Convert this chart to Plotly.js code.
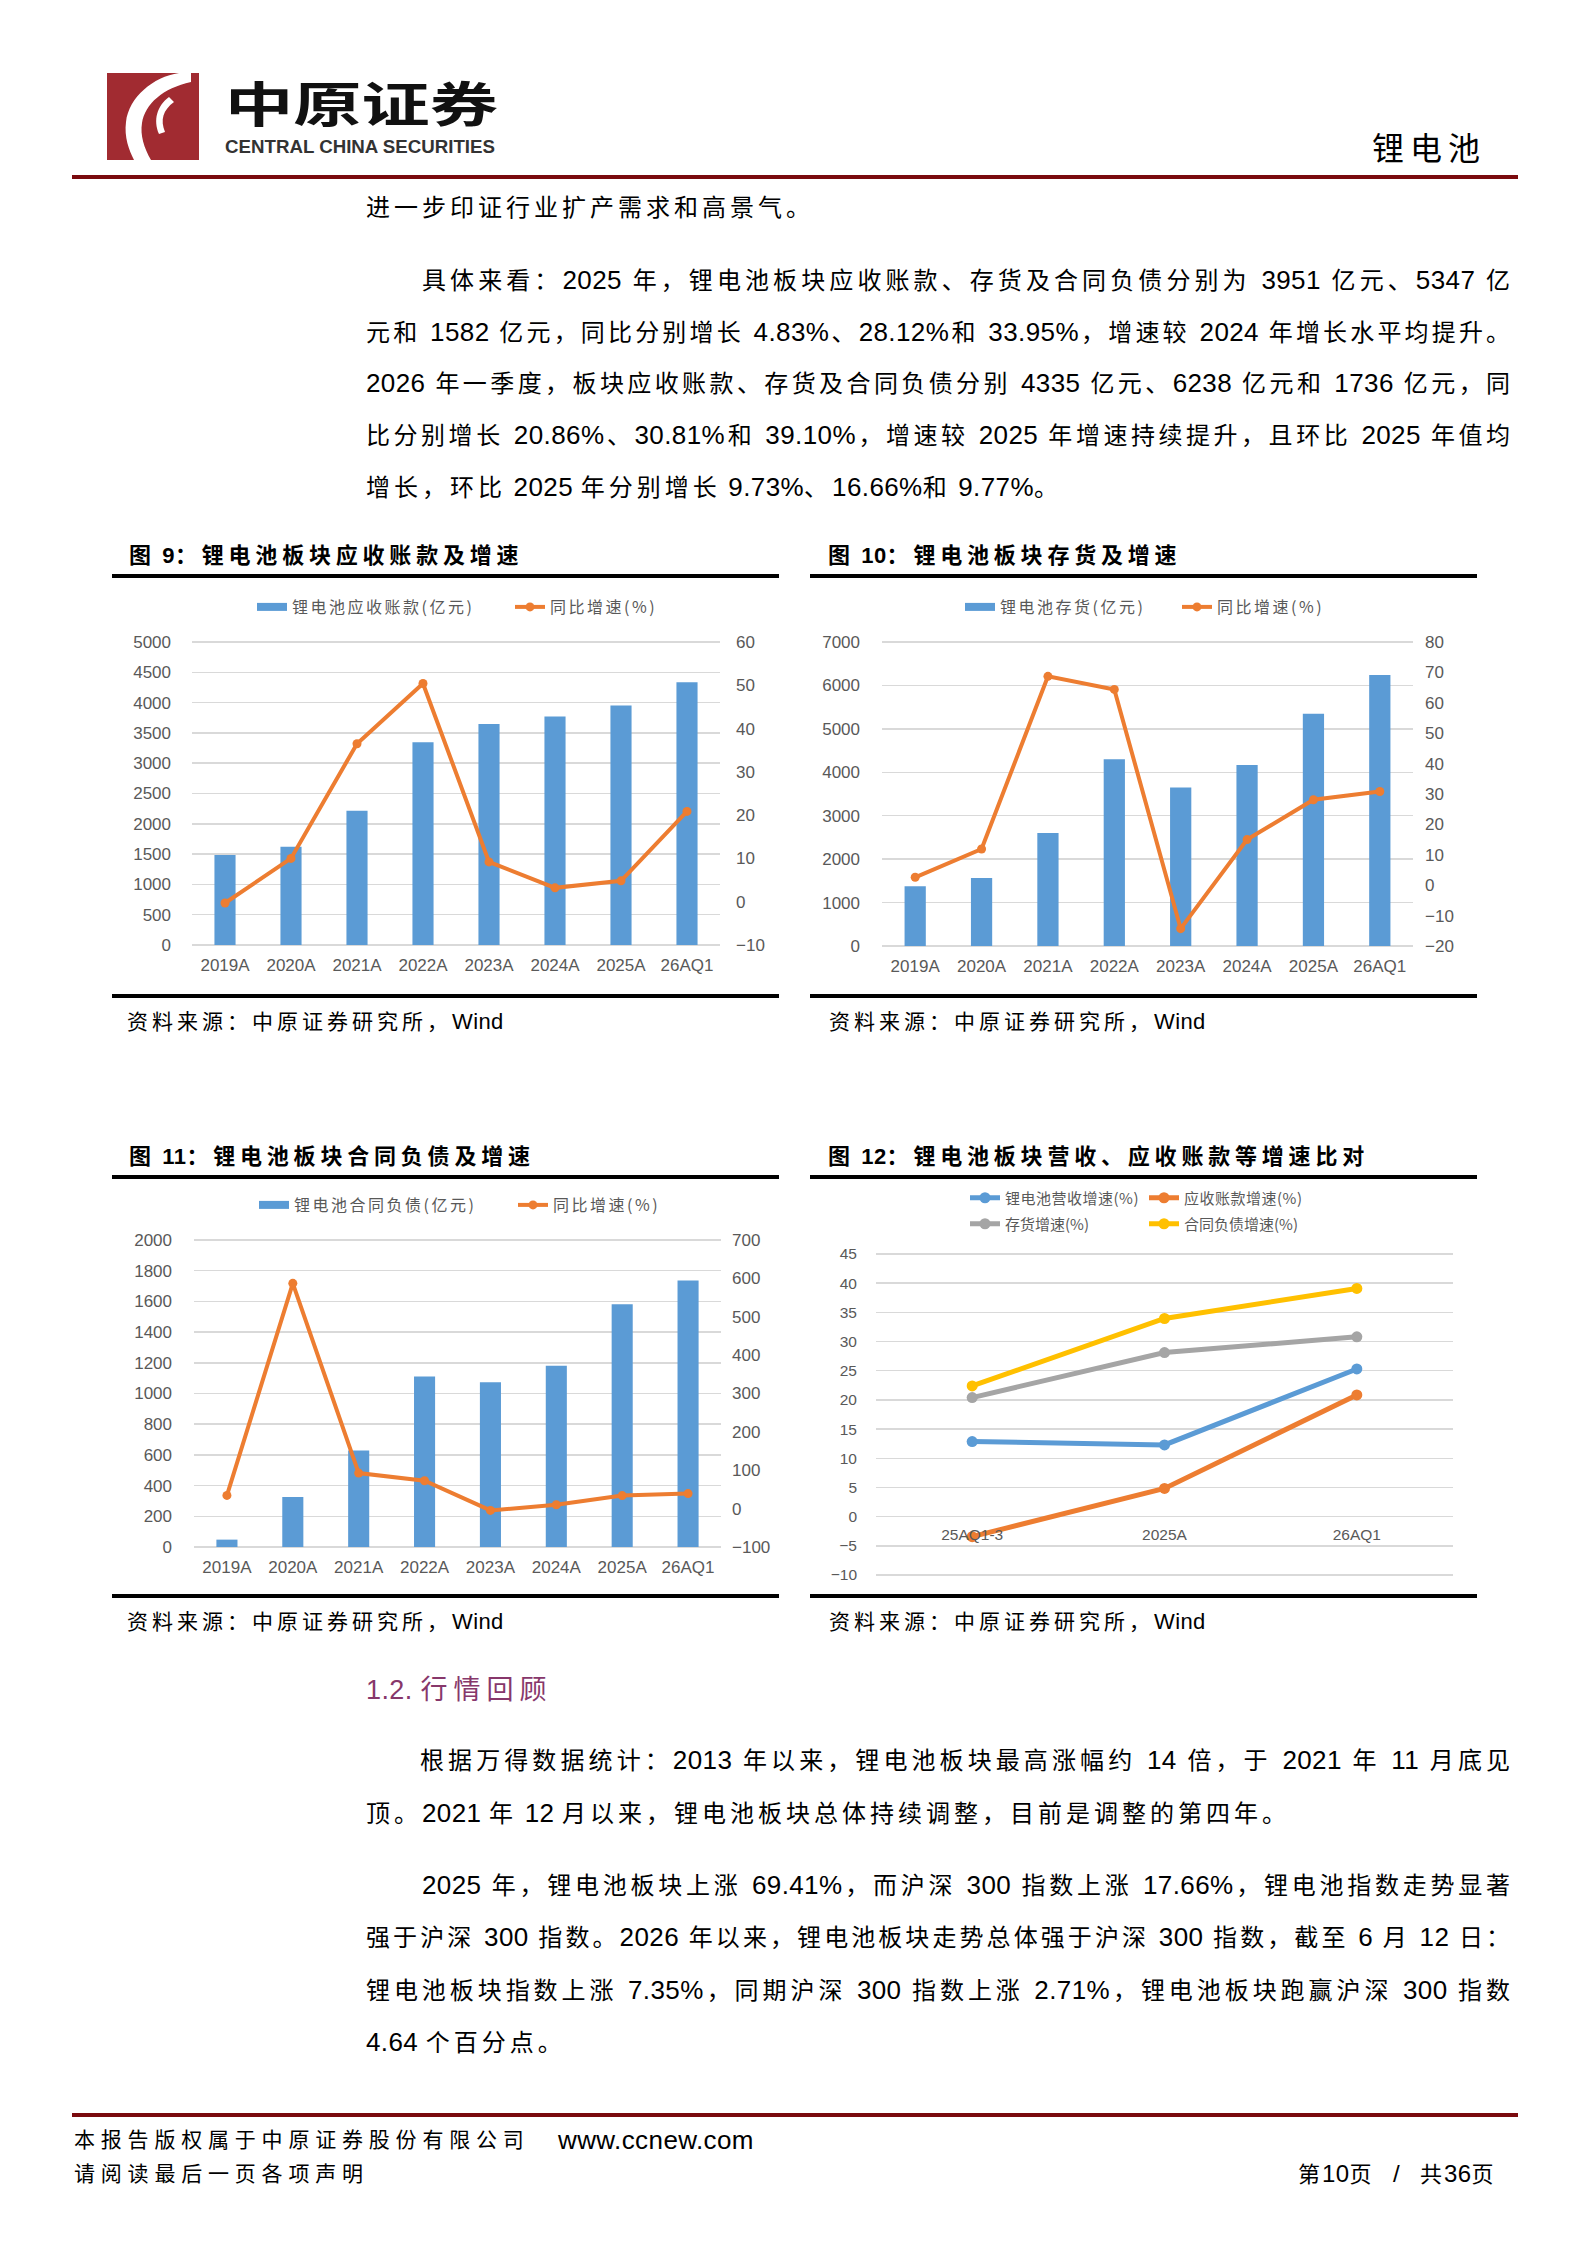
<!DOCTYPE html>
<html>
<head>
<meta charset="utf-8">
<script src="https://cdn.plot.ly/plotly-3.0.1.min.js"></script>
<style>
html,body{margin:0;padding:0;background:#fff;}
#page{position:relative;width:1588px;height:2245px;overflow:hidden;background:#fff;}
.t{position:absolute;white-space:nowrap;font-family:"Noto Sans CJK SC",sans-serif;color:#000;}
.lat{font-family:"Liberation Sans",Arial,sans-serif;letter-spacing:0.4px;}
.rule{position:absolute;}
.chart{position:absolute;}
.legendtext{letter-spacing:2.5px;}
#c12 .legendtext{letter-spacing:0.5px;}
</style>
</head>
<body>
<div id="page">
  <svg style="position:absolute;left:107px;top:73px" width="92" height="87" viewBox="0 0 92 87">
    <rect width="92" height="87" fill="#A12B31"/>
    <path d="M72,0 C46,4 22,24 19,49 C17,64 22,77 27,87 L44,87 C37,75 33,62 35,50 C38,31 56,15 84,9 L84,0 Z" fill="#fff"/>
    <path d="M62,24 C50,33 46,47 52,61 L58,59 C53,47 56,37 67,29 Z" fill="#fff"/>
  </svg>
  <svg style="position:absolute;left:220px;top:50px" width="290" height="115">
    <text x="5" y="72" textLength="273" lengthAdjust="spacingAndGlyphs" font-family="Noto Sans CJK SC" font-weight="bold" font-size="48" fill="#111">中原证券</text>
    <text x="5" y="102.5" textLength="270" lengthAdjust="spacingAndGlyphs" font-family="Liberation Sans" font-weight="bold" font-size="17.5" fill="#333">CENTRAL CHINA SECURITIES</text>
  </svg>
  <div id="c9" class="chart" style="left:112px;top:580px;width:668px;height:412px;"></div>
  <div id="c10" class="chart" style="left:810px;top:580px;width:667px;height:412px;"></div>
  <div id="c11" class="chart" style="left:112px;top:1180px;width:668px;height:412px;"></div>
  <div id="c12" class="chart" style="left:810px;top:1180px;width:667px;height:412px;"></div>
</div>
<script>
// ---------------- DATA ----------------
const years = ['2019A','2020A','2021A','2022A','2023A','2024A','2025A','26AQ1'];
const receivables = [1484, 1621, 2214, 3346, 3648, 3769, 3951, 4335];
const receivablesYoY = [-0.3, 10.0, 36.5, 50.4, 9.2, 3.2, 4.83, 20.86];
const inventory = [1377, 1568, 2601, 4300, 3650, 4170, 5347, 6238];
const inventoryYoY = [2.6, 11.9, 68.7, 64.4, -14.3, 15.0, 28.12, 30.81];
const contractLiab = [48, 325, 629, 1111, 1074, 1181, 1582, 1736];
const contractLiabYoY = [34.5, 587, 92.6, 72.7, -4.6, 10.0, 33.95, 39.10];
const cmpPeriods = ['25AQ1-3','2025A','26AQ1'];
const revenueGrowth = [12.86, 12.29, 25.3];
const receivablesGrowth = [-3.43, 4.83, 20.86];
const inventoryGrowth = [20.4, 28.12, 30.81];
const contractGrowth = [22.4, 33.95, 39.10];

// ---------------- PAGE TEXT ----------------
const page = document.getElementById('page');
function rule(l, t, w, h, c) {
  const d = document.createElement('div');
  d.className = 'rule';
  d.style.cssText = `left:${l}px;top:${t}px;width:${w}px;height:${h}px;background:${c};`;
  page.appendChild(d);
}
function line(txt, o) {
  const d = document.createElement('div');
  d.className = 't';
  const lh = 40;
  d.style.left = o.left + 'px';
  d.style.top = (o.cy - lh / 2 - 1) + 'px';
  d.style.height = lh + 'px';
  d.style.lineHeight = lh + 'px';
  d.style.fontSize = o.size + 'px';
  d.style.letterSpacing = o.ls + 'px';
  if (o.color) d.style.color = o.color;
  if (o.bold) d.style.fontWeight = 'bold';
  if (o.width) {
    d.style.width = o.width + 'px';
    d.style.whiteSpace = 'normal';
    d.style.textAlign = 'justify';
    d.style.textAlignLast = 'justify';
  }
  const ls = o.latSize || o.size;
  d.innerHTML = txt.replace(/[\x20-\x7E]+/g, m => `<span class="lat" style="font-size:${ls}px">${m}</span>`);
  page.appendChild(d);
}

rule(72, 175, 1446, 4, '#7A0A0E');
rule(72, 2113, 1446, 4, '#7A0A0E');
line('锂电池', {left: 1372, cy: 147, size: 32, ls: 6});

const R = 1510;
const body = {size: 24, ls: 4, latSize: 26};
const bodyJ = (left) => ({size: 24, ls: 1, latSize: 26, left: left, width: R - left + 1});
line('进一步印证行业扩产需求和高景气。', Object.assign({left: 366, cy: 207}, body));
line('具体来看：2025 年，锂电池板块应收账款、存货及合同负债分别为 3951 亿元、5347 亿', Object.assign({cy: 280}, bodyJ(422)));
line('元和 1582 亿元，同比分别增长 4.83%、28.12%和 33.95%，增速较 2024 年增长水平均提升。', Object.assign({cy: 332}, bodyJ(366)));
line('2026 年一季度，板块应收账款、存货及合同负债分别 4335 亿元、6238 亿元和 1736 亿元，同', Object.assign({cy: 383}, bodyJ(366)));
line('比分别增长 20.86%、30.81%和 39.10%，增速较 2025 年增速持续提升，且环比 2025 年值均', Object.assign({cy: 435}, bodyJ(366)));
line('增长，环比 2025 年分别增长 9.73%、16.66%和 9.77%。', Object.assign({left: 366, cy: 487}, body));

const titleStyle = {size: 22, ls: 4.8, bold: true, latSize: 22};
line('图 9：锂电池板块应收账款及增速', Object.assign({left: 129, cy: 554}, titleStyle));
line('图 10：锂电池板块存货及增速', Object.assign({left: 828, cy: 554}, titleStyle));
line('图 11：锂电池板块合同负债及增速', Object.assign({left: 129, cy: 1155}, titleStyle));
line('图 12：锂电池板块营收、应收账款等增速比对', Object.assign({left: 828, cy: 1155}, titleStyle));
rule(112, 574, 667, 4, '#000'); rule(810, 574, 667, 4, '#000');
rule(112, 994, 667, 4, '#000'); rule(810, 994, 667, 4, '#000');
rule(112, 1175, 667, 4, '#000'); rule(810, 1175, 667, 4, '#000');
rule(112, 1594, 667, 4, '#000'); rule(810, 1594, 667, 4, '#000');

const srcStyle = {size: 21, ls: 4, latSize: 22};
line('资料来源：中原证券研究所，Wind', Object.assign({left: 127, cy: 1021}, srcStyle));
line('资料来源：中原证券研究所，Wind', Object.assign({left: 829, cy: 1021}, srcStyle));
line('资料来源：中原证券研究所，Wind', Object.assign({left: 127, cy: 1621}, srcStyle));
line('资料来源：中原证券研究所，Wind', Object.assign({left: 829, cy: 1621}, srcStyle));

line('1.2. 行情回顾', {left: 366, cy: 1689, size: 27, ls: 6, latSize: 27, color: '#87376B'});
line('根据万得数据统计：2013 年以来，锂电池板块最高涨幅约 14 倍，于 2021 年 11 月底见', Object.assign({cy: 1760}, bodyJ(420)));
line('顶。2021 年 12 月以来，锂电池板块总体持续调整，目前是调整的第四年。', Object.assign({left: 366, cy: 1813}, body));
line('2025 年，锂电池板块上涨 69.41%，而沪深 300 指数上涨 17.66%，锂电池指数走势显著', Object.assign({cy: 1885}, bodyJ(422)));
line('强于沪深 300 指数。2026 年以来，锂电池板块走势总体强于沪深 300 指数，截至 6 月 12 日：', Object.assign({cy: 1937}, bodyJ(366)));
line('锂电池板块指数上涨 7.35%，同期沪深 300 指数上涨 2.71%，锂电池板块跑赢沪深 300 指数', Object.assign({cy: 1990}, bodyJ(366)));
line('4.64 个百分点。', Object.assign({left: 366, cy: 2042}, body));

line('本报告版权属于中原证券股份有限公司', {left: 74, cy: 2139, size: 21, ls: 5.8});
line('www.ccnew.com', {left: 558, cy: 2139, size: 26, ls: 0, latSize: 26});
line('请阅读最后一页各项声明', {left: 74, cy: 2173, size: 21, ls: 5.8});
line('第10页', {left: 1298, cy: 2173, size: 22, ls: 2, latSize: 24});
line('/', {left: 1393, cy: 2173, size: 22, ls: 0, latSize: 24});
line('共36页', {left: 1420, cy: 2173, size: 22, ls: 2, latSize: 24});

// ---------------- CHARTS ----------------
const BLUE = '#5B9BD5', ORANGE = '#ED7D31', GRAY = '#A5A5A5', GOLD = '#FFC000';
const GRID = '#D9D9D9', TICK = '#595959';
const E = 2;
function ext(r, span) { const u = (r[1] - r[0]) / span; return [r[0] - E * u, r[1] + E * u]; }
const cfg = {staticPlot: true, displayModeBar: false};

function dual(id, g, bars, lineVals, barName, yr, ydt, y2r, y2dt, leg) {
  const span = g.botPx - g.topPx;
  const traces = [
    {type: 'bar', x: years, y: bars, marker: {color: BLUE}, showlegend: false, yaxis: 'y', hoverinfo: 'skip'},
    {type: 'scatter', mode: 'lines', x: [years[0]], y: [null], line: {color: BLUE, width: 8}, name: barName, yaxis: 'y'},
    {type: 'scatter', mode: 'lines+markers', x: years, y: lineVals, yaxis: 'y2', name: '同比增速(%)',
     line: {color: ORANGE, width: 4}, marker: {color: ORANGE, size: 9}}
  ];
  const layout = {
    width: g.w, height: g.h,
    margin: {l: g.l, r: g.r, t: g.topPx - E, b: g.h - g.botPx - E, pad: 0},
    paper_bgcolor: 'rgba(0,0,0,0)', plot_bgcolor: 'rgba(0,0,0,0)',
    font: {family: '"Liberation Sans", Arial, sans-serif', size: 17, color: TICK},
    bargap: 0.68,
    showlegend: true,
    xaxis: {type: 'category', range: [-0.5, years.length - 0.5], showline: false, showgrid: false, zeroline: false, ticks: '',
            tickfont: {size: 17, color: TICK}, ticklabelstandoff: g.xso},
    yaxis: {range: ext(yr, span), tick0: 0, dtick: ydt, showgrid: true, gridcolor: GRID, gridwidth: 1.5,
            zeroline: false, showline: false, ticks: '', tickfont: {size: 17, color: TICK}, ticklabelstandoff: g.lso},
    yaxis2: {range: ext(y2r, span), tick0: 0, dtick: y2dt, overlaying: 'y', side: 'right', showgrid: false,
             zeroline: false, showline: false, ticks: '', tickfont: {size: 17, color: TICK}, ticklabelstandoff: g.rso},
    legend: {orientation: 'h', xref: 'container', yref: 'container', x: leg.x / g.w, y: 1 - leg.y / g.h,
             xanchor: 'left', yanchor: 'middle', entrywidth: leg.ew, entrywidthmode: 'pixels',
             font: {family: '"Noto Sans CJK SC", sans-serif', size: 16, color: TICK},
             bgcolor: 'rgba(0,0,0,0)', traceorder: 'normal'}
  };
  Plotly.newPlot(id, traces, layout, cfg);
}

dual('c9', {w: 668, h: 412, l: 80, r: 60, topPx: 62, botPx: 365, xso: 6, lso: 20, rso: 15},
     receivables, receivablesYoY, '锂电池应收账款(亿元)', [0, 5000], 500, [-10, 60], 10,
     {x: 140, y: 27, ew: 213});
dual('c10', {w: 667, h: 412, l: 72, r: 64, topPx: 62, botPx: 366, xso: 6, lso: 21, rso: 11},
     inventory, inventoryYoY, '锂电池存货(亿元)', [0, 7000], 1000, [-20, 80], 10,
     {x: 150, y: 27, ew: 172});
dual('c11', {w: 668, h: 412, l: 82, r: 59, topPx: 60, botPx: 367, xso: 6, lso: 21, rso: 10},
     contractLiab, contractLiabYoY, '锂电池合同负债(亿元)', [0, 2000], 200, [-100, 700], 100,
     {x: 142, y: 25, ew: 214});

(function () {
  const g = {w: 667, h: 412, l: 66, r: 24, topPx: 74, botPx: 395};
  const span = g.botPx - g.topPx;
  const yr = ext([-10, 45], span);
  const pos = (0 - yr[0]) / (yr[1] - yr[0]);
  const mk = (vals, name, color, legend) => ({type: 'scatter', mode: 'lines+markers', x: cmpPeriods, y: vals, name: name,
    legend: legend, line: {color: color, width: 5}, marker: {color: color, size: 11}});
  const traces = [
    mk(revenueGrowth, '锂电池营收增速(%)', BLUE, 'legend'),
    mk(receivablesGrowth, '应收账款增速(%)', ORANGE, 'legend'),
    mk(inventoryGrowth, '存货增速(%)', GRAY, 'legend2'),
    mk(contractGrowth, '合同负债增速(%)', GOLD, 'legend2')
  ];
  const legFont = {family: '"Noto Sans CJK SC", sans-serif', size: 15, color: TICK};
  const tf = {family: '"Liberation Sans", Arial, sans-serif', size: 15.5, color: TICK};
  const layout = {
    width: g.w, height: g.h,
    margin: {l: g.l, r: g.r, t: g.topPx - E, b: g.h - g.botPx - E, pad: 0},
    paper_bgcolor: 'rgba(0,0,0,0)', plot_bgcolor: 'rgba(0,0,0,0)',
    font: tf,
    showlegend: true,
    xaxis: {type: 'category', range: [-0.5, cmpPeriods.length - 0.5], anchor: 'free', position: pos,
            showline: false, showgrid: false, zeroline: false,
            ticks: '', tickfont: tf, ticklabelstandoff: 7},
    yaxis: {range: yr, tick0: 0, dtick: 5, showgrid: true, gridcolor: GRID, gridwidth: 1.5, zeroline: false,
            showline: false, ticks: '', tickfont: tf, ticklabelstandoff: 18},
    legend: {orientation: 'h', xref: 'container', yref: 'container', x: 155 / g.w, y: 1 - 18 / g.h,
             xanchor: 'left', yanchor: 'middle', entrywidth: 134, entrywidthmode: 'pixels', font: legFont,
             bgcolor: 'rgba(0,0,0,0)', traceorder: 'normal'},
    legend2: {orientation: 'h', xref: 'container', yref: 'container', x: 155 / g.w, y: 1 - 44 / g.h,
             xanchor: 'left', yanchor: 'middle', entrywidth: 134, entrywidthmode: 'pixels', font: legFont,
             bgcolor: 'rgba(0,0,0,0)', traceorder: 'normal'}
  };
  Plotly.newPlot('c12', traces, layout, cfg);
})();
</script>
</body>
</html>
